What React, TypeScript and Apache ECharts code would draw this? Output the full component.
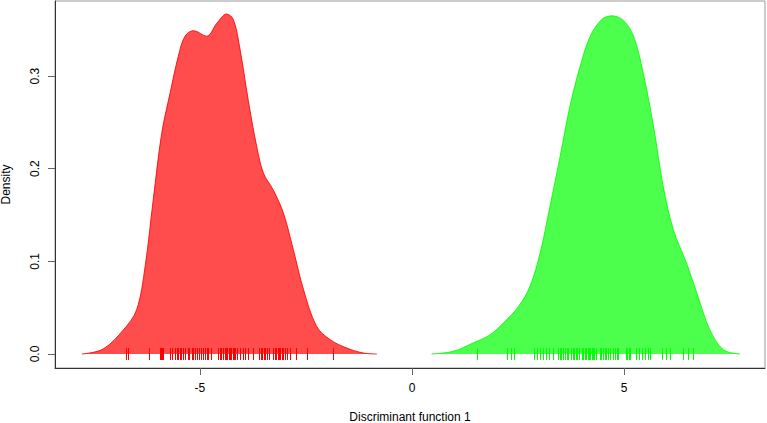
import React, { useEffect, useRef } from "react";
import * as echarts from "echarts";

const redX = [-7.78, -7.28, -6.8, -6.49, -6.29, -6.1, -5.9, -5.7, -5.51, -5.35, -5.15, -4.84, -4.6, -4.37, -4.21, -4.05, -3.86, -3.66, -3.5, -3.27, -3.03, -2.8, -2.56, -2.25, -1.93, -1.54, -1.15, -0.83];
const redY = [0, 0.0054, 0.0262, 0.0478, 0.0945, 0.166, 0.238, 0.282, 0.321, 0.343, 0.349, 0.343, 0.357, 0.367, 0.361, 0.328, 0.274, 0.224, 0.195, 0.177, 0.152, 0.113, 0.07, 0.03, 0.0155, 0.0065, 0.0011, 0];

const greenX = [0.46, 0.97, 1.44, 1.84, 2.15, 2.51, 2.78, 3.02, 3.25, 3.49, 3.72, 3.96, 4.2, 4.47, 4.71, 4.98, 5.22, 5.45, 5.69, 5.92, 6.16, 6.47, 6.71, 7.02, 7.34, 7.73];
const greenY = [0, 0.0029, 0.0119, 0.0208, 0.0334, 0.0514, 0.073, 0.109, 0.159, 0.213, 0.267, 0.31, 0.343, 0.361, 0.365, 0.36, 0.343, 0.303, 0.246, 0.181, 0.134, 0.098, 0.066, 0.026, 0.0046, 0];

const redRug = [-6.75, -6.69, -6.21, -5.93, -5.91, -5.89, -5.86, -5.7, -5.66, -5.59, -5.55, -5.51, -5.47, -5.44, -5.39, -5.35, -5.29, -5.25, -5.19, -5.15, -5.11, -5.07, -5.01, -4.98, -4.92, -4.87, -4.84, -4.81, -4.74, -4.57, -4.53, -4.49, -4.45, -4.41, -4.38, -4.35, -4.32, -4.29, -4.26, -4.23, -4.2, -4.17, -4.12, -4.05, -3.99, -3.93, -3.86, -3.75, -3.6, -3.57, -3.54, -3.5, -3.46, -3.42, -3.38, -3.27, -3.24, -3.21, -3.17, -3.14, -3.11, -3.07, -3.03, -2.99, -2.94, -2.88, -2.73, -2.47, -1.87];
const greenRug = [1.52, 2.25, 2.33, 2.4, 2.88, 2.95, 3.02, 3.09, 3.16, 3.23, 3.32, 3.45, 3.48, 3.52, 3.56, 3.61, 3.65, 3.68, 3.74, 3.79, 3.82, 3.87, 3.9, 3.94, 4.0, 4.04, 4.08, 4.11, 4.14, 4.17, 4.2, 4.24, 4.27, 4.3, 4.34, 4.43, 4.46, 4.5, 4.54, 4.58, 4.62, 4.67, 4.74, 4.78, 4.82, 4.86, 5.04, 5.07, 5.11, 5.14, 5.28, 5.35, 5.42, 5.49, 5.55, 5.61, 5.89, 5.99, 6.08, 6.39, 6.51, 6.62];

const xTicks = [-5, 0, 5];
const yTicks = [0, 0.1, 0.2, 0.3];

const FONT = "Liberation Sans, Arial, Helvetica, sans-serif";

function rugSeries(values: number[], color: string) {
  return {
    type: "custom",
    data: values.map((v) => [v, 0]),
    encode: { x: 0, y: 1 },
    silent: true,
    z: 5,
    itemStyle: { color },
    renderItem: (_params: any, api: any) => {
      const p = api.coord([api.value(0), 0]);
      const x = Math.round(p[0]) + 0.5;
      return {
        type: "line",
        shape: { x1: x, y1: p[1] - 6, x2: x, y2: p[1] + 6 },
        style: { stroke: color, fill: "none", lineWidth: 1, opacity: 1 },
      };
    },
  };
}

export default function App() {
  const ref = useRef<HTMLDivElement>(null);
  useEffect(() => {
    if (!ref.current) return;
    const chart = echarts.init(ref.current, null, { renderer: "svg" });
    chart.setOption({
      animation: false,
      backgroundColor: "#ffffff",
      grid: {
        left: 55,
        right: 2,
        top: 1,
        bottom: 55,
        outerBoundsMode: "none",
        containLabel: false,
        show: true,
        borderColor: "#999999",
        borderWidth: 1,
      },
      xAxis: {
        type: "value",
        min: -8.414,
        max: 8.319,
        name: "Discriminant function 1",
        nameLocation: "middle",
        nameGap: 43,
        nameTextStyle: { fontFamily: FONT, fontSize: 12, color: "#000" },
        axisLine: { show: true, onZero: false, lineStyle: { color: "#333", width: 1 } },
        axisTick: { show: true, length: 7, customValues: xTicks, lineStyle: { color: "#666" } },
        axisLabel: {
          customValues: xTicks,
          margin: 14,
          fontFamily: FONT,
          fontSize: 12,
          color: "#000",
          formatter: (v: number) => String(v),
        },
        splitLine: { show: false },
      },
      yAxis: {
        type: "value",
        min: -0.0151,
        max: 0.381,
        name: "Density",
        nameLocation: "middle",
        nameGap: 43,
        nameTextStyle: { fontFamily: FONT, fontSize: 12, color: "#000" },
        axisLine: { show: true, onZero: false, lineStyle: { color: "#333", width: 1 } },
        axisTick: { show: true, length: 7, customValues: yTicks, lineStyle: { color: "#666" } },
        axisLabel: {
          customValues: yTicks,
          rotate: 90,
          margin: 14,
          fontFamily: FONT,
          fontSize: 12,
          color: "#000",
          formatter: (v: number) => v.toFixed(1),
        },
        splitLine: { show: false },
      },
      series: [
        {
          type: "line",
          data: redX.map((x, i) => [x, redY[i]]),
          smooth: 0.35,
          symbol: "none",
          lineStyle: { color: "#ff0000", width: 1, opacity: 0.85 },
          areaStyle: { color: "#ff0000", opacity: 0.7, origin: 0 },
          z: 2,
        },
        {
          type: "line",
          data: greenX.map((x, i) => [x, greenY[i]]),
          smooth: 0.35,
          symbol: "none",
          lineStyle: { color: "#00ff00", width: 1, opacity: 0.85 },
          areaStyle: { color: "#00ff00", opacity: 0.7, origin: 0 },
          z: 2,
        },
        rugSeries(redRug, "#ff0000"),
        rugSeries(greenRug, "#00ff00"),
      ],
    });
    return () => chart.dispose();
  }, []);
  return (
    <div
      ref={ref}
      style={{ position: "fixed", left: 0, top: 0, width: 767, height: 423 }}
    />
  );
}
